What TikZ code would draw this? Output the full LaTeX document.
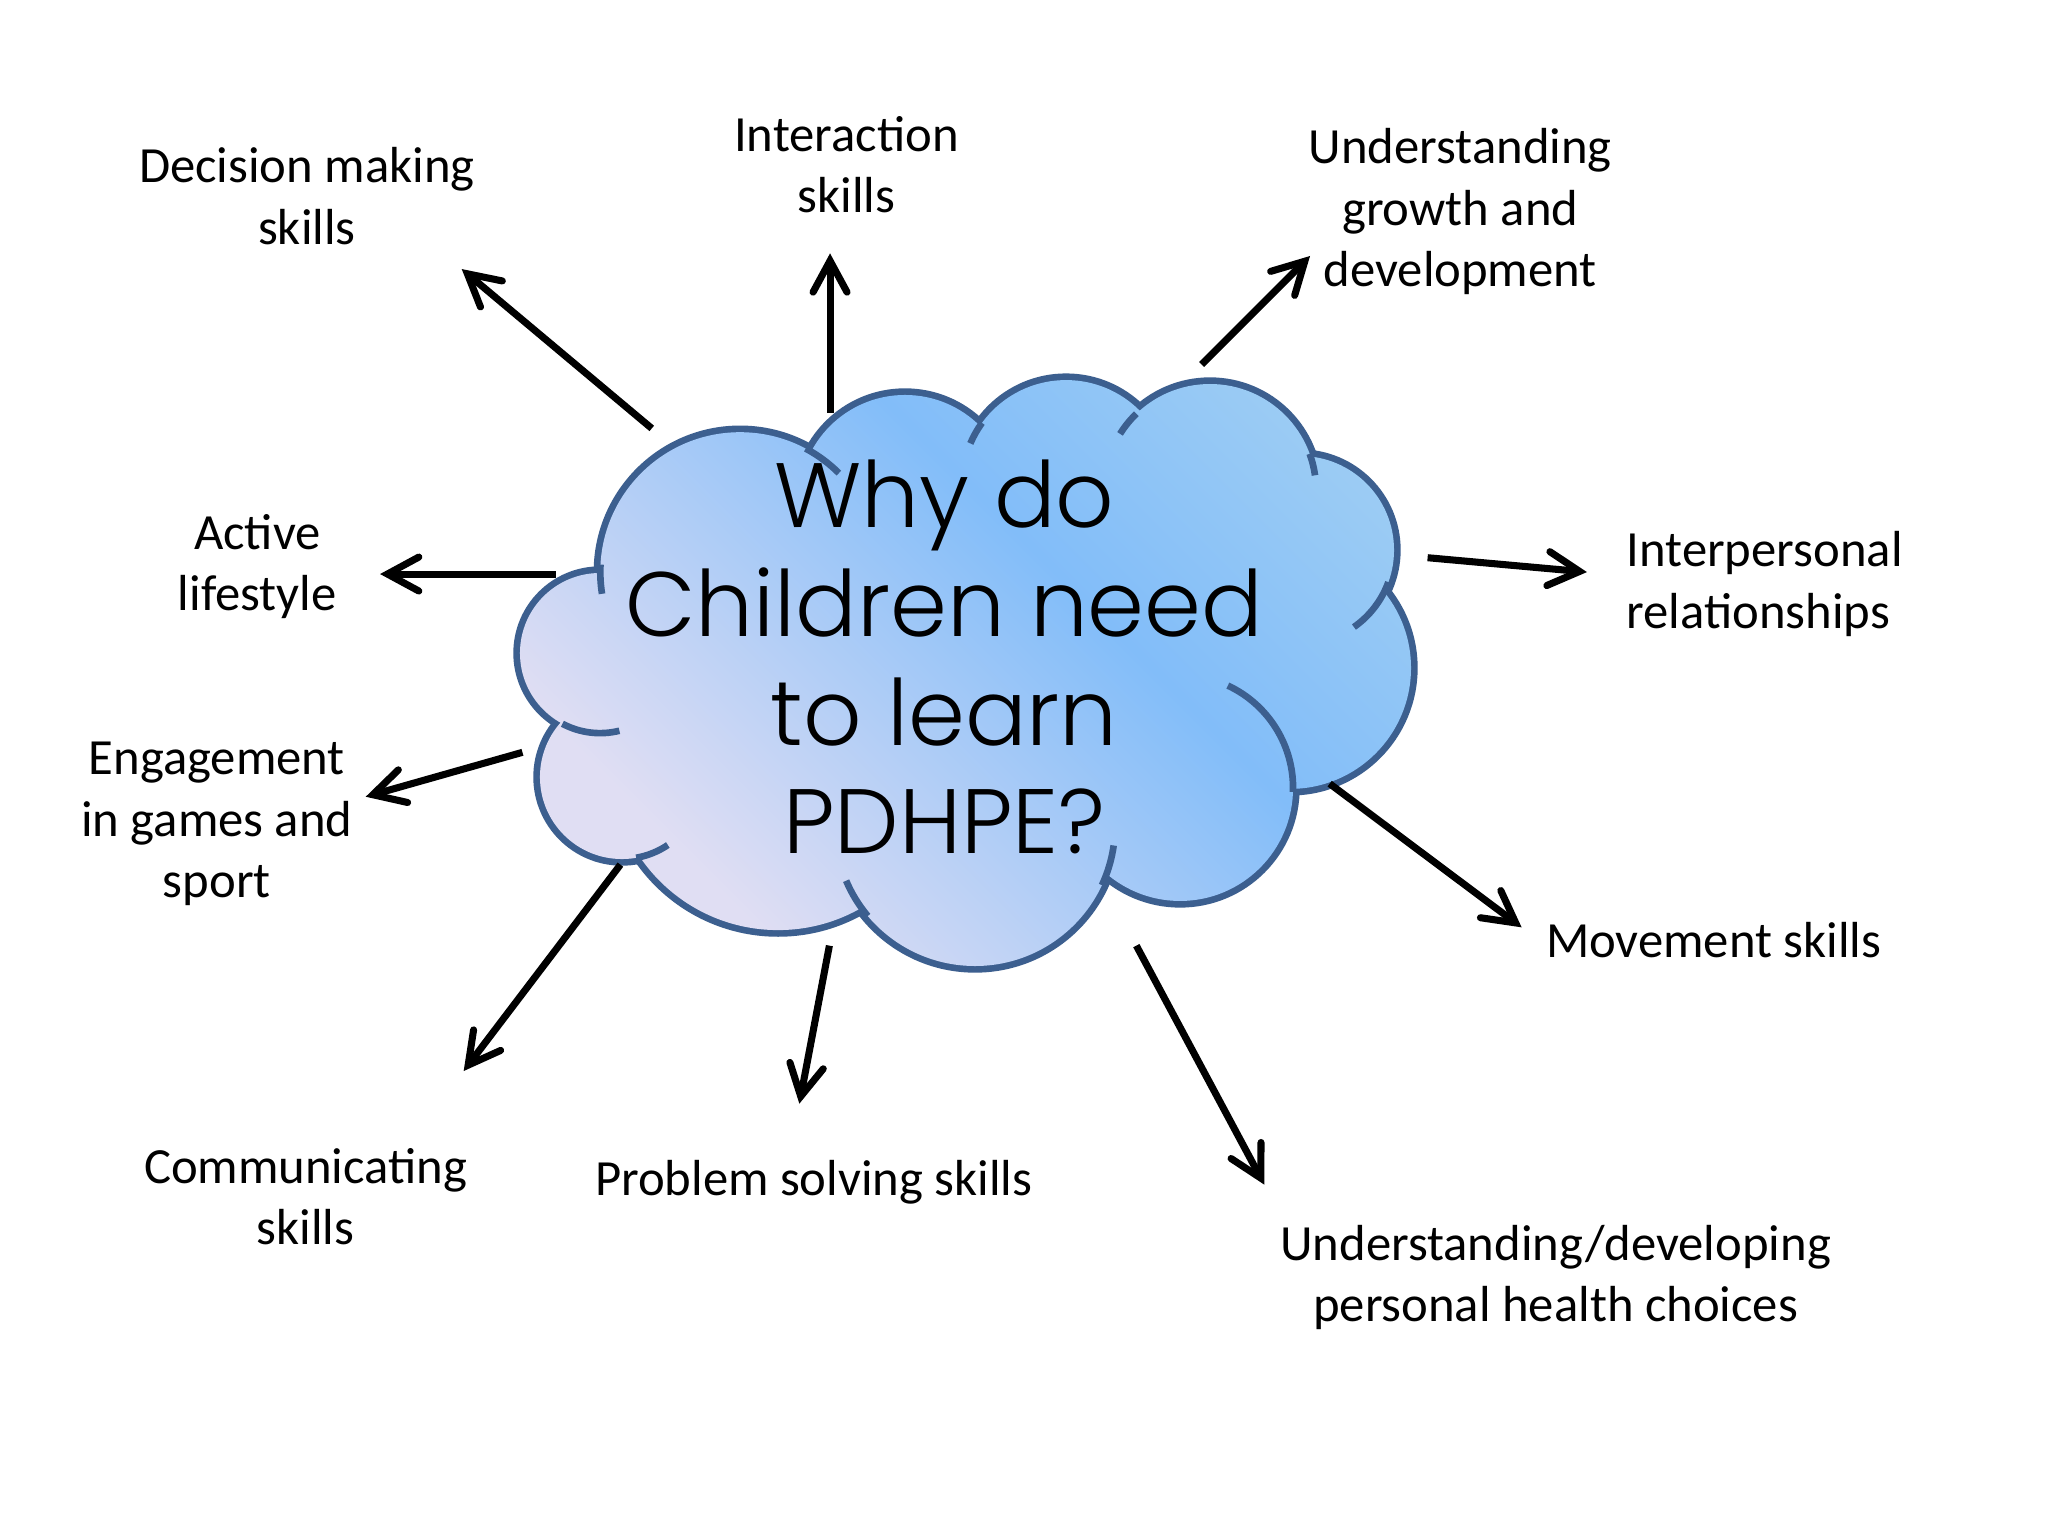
\documentclass[tikz,border=0pt]{standalone}
\usepackage{fontspec}
\setmainfont{Carlito}
\newfontfamily\titlefont{Poppins}[UprightFont={* Light}]
\usetikzlibrary{arrows.meta}
\definecolor{cloudline}{RGB}{60,95,143}
\definecolor{cloudlav}{RGB}{224,222,243}
\definecolor{cloudblue}{RGB}{130,189,249}
\definecolor{cloudtop}{RGB}{172,213,240}
\begin{document}
\begin{tikzpicture}[x=0.5pt,y=-0.5pt,
  lbl/.style={align=center, font=\fontsize{19.4}{23.5}\selectfont, inner sep=0pt},
  arr/.style={line width=2.7pt, -{Straight Barb[length=12pt,width=13pt,line cap=round,line join=miter]}},
  ext/.style={cloudline, line width=2.55pt},
  rim/.style={cloudline, line width=5.1pt},
  cloudfill/.style={left color=cloudlav, right color=cloudtop, middle color=cloudblue, shading angle=135},
]
\useasboundingbox[fill=white] (0,0) rectangle (1568,1176);

% bump centres of the cloud
\coordinate (cA) at (566.6,437.9);
\coordinate (cB) at (459.4,500.0);
\coordinate (cC) at (476.2,594.9);
\coordinate (cD) at (595.7,584.2);
\coordinate (cE) at (746.5,632.4);
\coordinate (cF) at (903.5,603.3);
\coordinate (cG) at (987.7,511.4);
\coordinate (cH) at (995.3,421.1);
\coordinate (cI) at (926.4,375.2);
\coordinate (cJ) at (816.2,370.6);
\coordinate (cK) at (692.9,383.6);

% outline (outer half stays visible)
\foreach \c/\r in {cA/107,cB/61.3,cC/62.8,cD/127.9,cE/107.2,cF/86.5,cG/92.6,cH/72,cI/81.2,cJ/79.6,cK/81.2}
  \draw[rim] (\c) circle[radius=\r];

% fill
\begin{scope}
  \clip (cA) circle[radius=107] (cB) circle[radius=61.3] (cC) circle[radius=62.8]
        (cD) circle[radius=127.9] (cE) circle[radius=107.2] (cF) circle[radius=86.5]
        (cG) circle[radius=92.6] (cH) circle[radius=72] (cI) circle[radius=81.2]
        (cJ) circle[radius=79.6] (cK) circle[radius=81.2];
  \shade[cloudfill] (398,200) rectangle (1282,740);
\end{scope}
\begin{scope}
  \clip (cA) -- (cB) -- (cC) -- (cD) -- (cE) -- (cF) -- (cG) -- (cH) -- (cI) -- (cJ) -- (cK) -- cycle;
  \shade[cloudfill] (398,200) rectangle (1282,740);
\end{scope}

% inner arc ends of the cloud
\draw[ext] (cA) ++(183:107) arc[start angle=183, end angle=171, radius=107];
\draw[ext] (cB) ++(118:61.3) arc[start angle=118, end angle=76, radius=61.3];
\draw[ext] (cC) ++(80:62.8) arc[start angle=80, end angle=56, radius=62.8];
\draw[ext] (cE) ++(140:107.2) arc[start angle=140, end angle=157, radius=107.2];
\draw[ext] (cE) ++(25:107.2) arc[start angle=25, end angle=8, radius=107.2];
\draw[ext] (cF) ++(2:86.5) arc[start angle=2, end angle=-65, radius=86.5];
\draw[ext] (cH) ++(20:72) arc[start angle=20, end angle=55, radius=72];
\draw[ext] (cI) ++(-20:81.2) arc[start angle=-20, end angle=-8, radius=81.2];
\draw[ext] (cI) ++(226:81.2) arc[start angle=226, end angle=212, radius=81.2];
\draw[ext] (cJ) ++(216:79.6) arc[start angle=216, end angle=203, radius=79.6];
\draw[ext] (cA) ++(-62:107) arc[start angle=-62, end angle=-45, radius=107];

% title
\node[align=center, inner sep=0pt, font=\titlefont\fontsize{35}{41.7}\selectfont] (title) at (723,503)
  {Why do\\Children need\\to learn\\PDHPE?};

% labels
\node[lbl] (dec) at (235,150) {Decision making\\skills};
\node[lbl] (inter) at (648,126) {Interaction\\skills};
\node[lbl] (grow) at (1118,162) {Understanding\\growth and\\development};
\node[lbl] (act) at (197,434) {Active\\lifestyle};
\node[lbl, align=left, anchor=west] (pers) at (1245,447) {Interpersonal\\relationships};
\node[lbl] (eng) at (166,631) {Engagement\\in games and\\sport};
\node[lbl] (move) at (1312,720) {Movement skills};
\node[lbl] (comm) at (234,916) {Communicating\\skills};
\node[lbl] (prob) at (623,905) {Problem solving skills};
\node[lbl] (health) at (1191,978) {Understanding/developing\\personal health choices};

% arrow ends
\coordinate (t1) at (499,328);   \coordinate (h1) at (353.5,206);
\coordinate (t2) at (635.5,316); \coordinate (h2) at (635.5,194);
\coordinate (t3) at (920,279);   \coordinate (h3) at (1003,196);
\coordinate (t4) at (425.8,439.5); \coordinate (h4) at (291,439.5);
\coordinate (t5) at (1093,427);  \coordinate (h5) at (1215,438);
\coordinate (t6) at (400,576);   \coordinate (h6) at (280,610);
\coordinate (t7) at (1018,600);  \coordinate (h7) at (1165,710);
\coordinate (t8) at (475,662);   \coordinate (h8) at (355,820);
\coordinate (t9) at (635,724);   \coordinate (h9) at (612,845);
\coordinate (t10) at (870,724);  \coordinate (h10) at (968,907);
\foreach \i in {1,...,10} \draw[arr] (t\i) -- (h\i);
\end{tikzpicture}
\end{document}
